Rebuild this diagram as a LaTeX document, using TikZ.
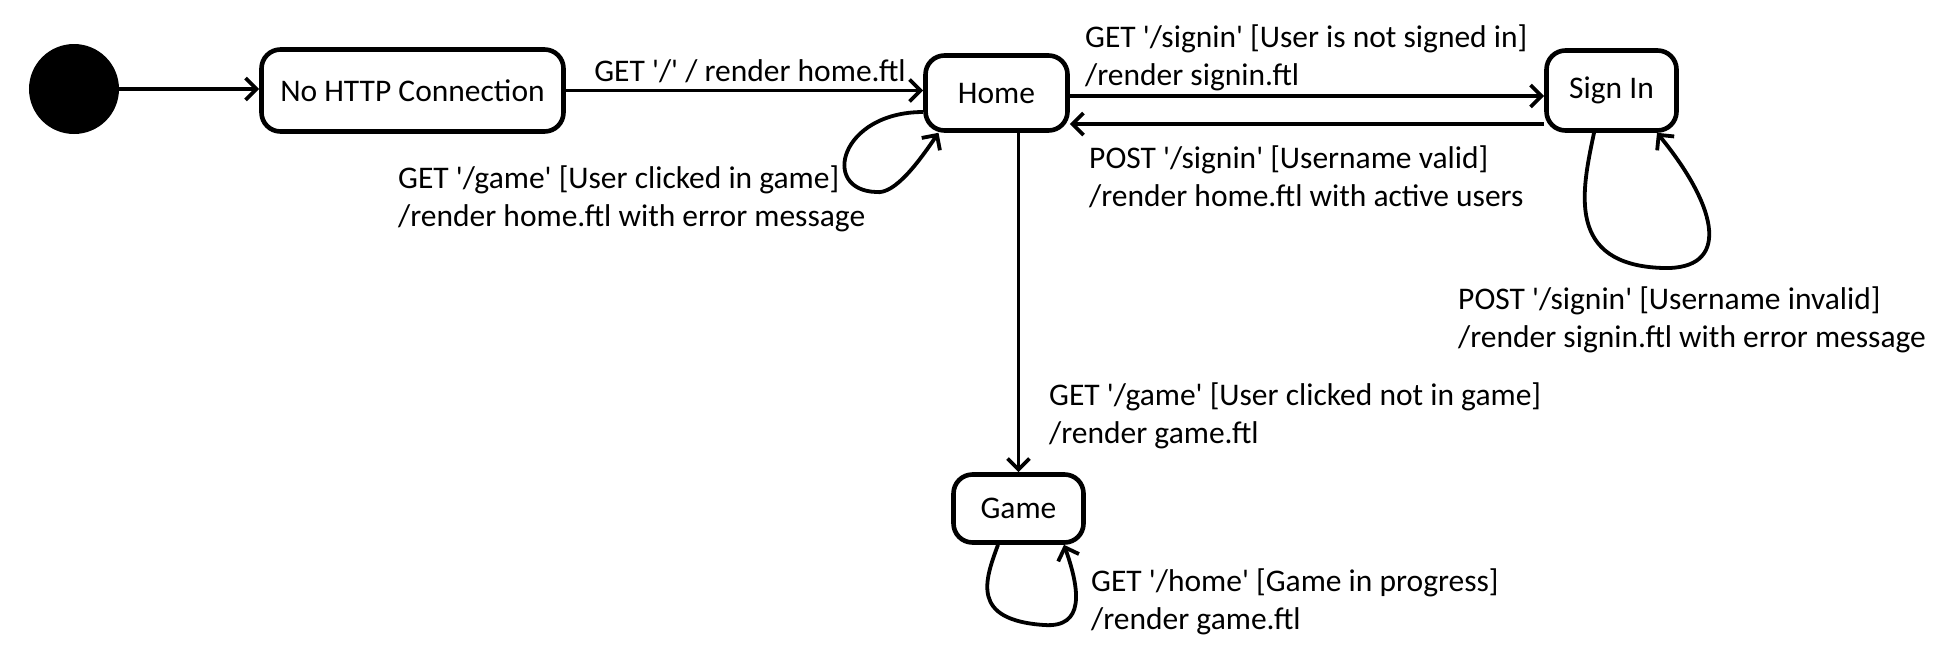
\documentclass[tikz,border=0pt]{standalone}
\usepackage{fontspec}
\setmainfont{Carlito}[Ligatures=TeXOff]
\usetikzlibrary{arrows.meta}
\begin{document}
\begin{tikzpicture}[x=1pt,y=-1pt,
  state/.style={draw, line width=4.6pt, rounded corners=19pt, inner sep=0pt, font=\fontsize{31.5}{38}\selectfont},
  lbl/.style={inner sep=0pt, align=left, anchor=west, font=\fontsize{31.5}{38}\selectfont},
  tr/.style={line width=3.8pt, -{Straight Barb[length=11pt,width=22pt]}}]
\useasboundingbox (0,0) rectangle (1948,659);
\node[circle, fill=black, draw, line width=2pt, minimum size=88pt, inner sep=0pt] (init) at (74,89) {};
\node[state, minimum width=302pt, minimum height=82pt] (nohttp) at (412.5,90.5) {No HTTP Connection};
\node[state, minimum width=142pt, minimum height=75pt] (home) at (996.5,93) {Home};
\node[state, minimum width=130pt, minimum height=80pt] (signin) at (1611.5,90.5) {Sign In};
\node[state, minimum width=130pt, minimum height=68pt] (game) at (1018.5,508.5) {Game};

\node[lbl, anchor=center] (l1) at (750,71) {GET '/' / render home.ftl};
\node[lbl] (l2) at (398,199) {GET '/game' [User clicked in game]\\/render home.ftl with error message};
\node[lbl] (l3) at (1085,58) {GET '/signin' [User is not signed in]\\/render signin.ftl};
\node[lbl] (l4) at (1089,177) {POST '/signin' [Username valid]\\/render home.ftl with active users};
\node[lbl] (l5) at (1458,320) {POST '/signin' [Username invalid]\\/render signin.ftl with error message};
\node[lbl] (l6) at (1049,416) {GET '/game' [User clicked not in game]\\/render game.ftl};
\node[lbl] (l7) at (1091,602) {GET '/home' [Game in progress]\\/render game.ftl};

\draw[tr] (init.east) -- (init.east -| nohttp.west);
\draw[tr] (nohttp.east) -- (nohttp.east -| home.west);
\draw[tr] ([yshift=-3pt]home.east) -- ([yshift=-3pt]home.east -| signin.west);
\draw[tr] ([yshift=-33.5pt]signin.west) -- ([yshift=-33.5pt]signin.west -| home.east);
\draw[tr] (game.north |- home.south) -- (game.north);
\draw[tr] ([yshift=-19pt]home.west) .. controls (840,112) and (820,190) .. (876,192)
  .. controls (895,195) and (920,160) .. ([xshift=-58pt]home.south);
\draw[tr] ([xshift=-17.5pt]signin.south) .. controls (1582,190) and (1565,265) .. (1663,268)
  .. controls (1730,270) and (1720,210) .. ([xshift=45.5pt]signin.south);
\draw[tr] ([xshift=-20.5pt]game.south) .. controls (985,580) and (970,620) .. (1044,625)
  .. controls (1085,628) and (1080,590) .. ([xshift=45.5pt]game.south);
\end{tikzpicture}
\end{document}
